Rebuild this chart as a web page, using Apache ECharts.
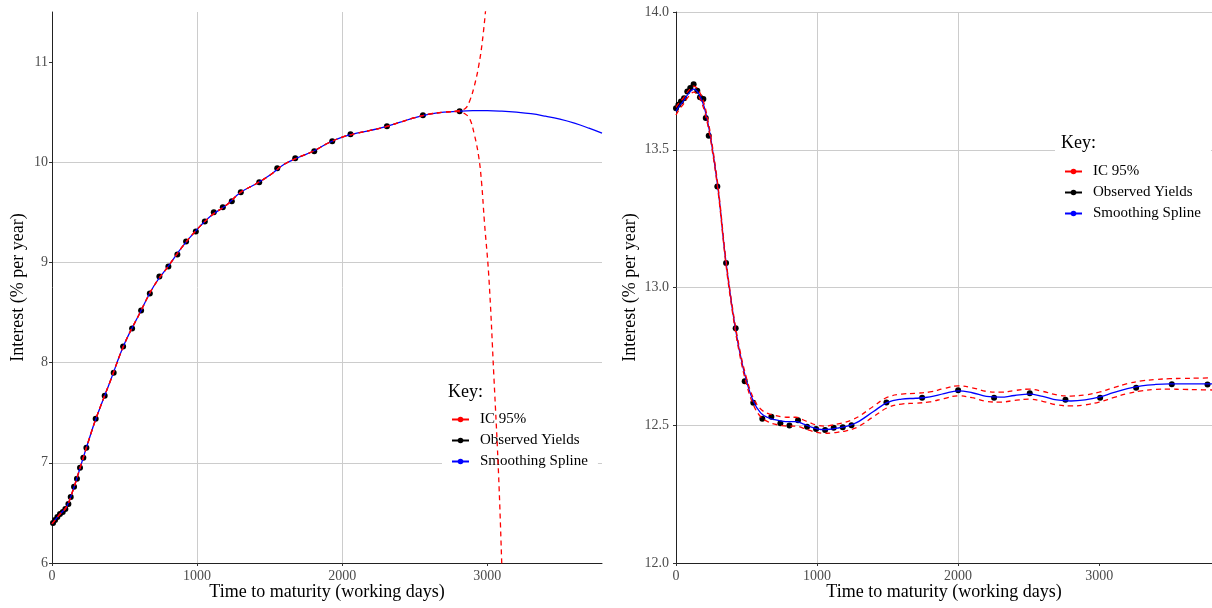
<!DOCTYPE html>
<html>
<head>
<meta charset="utf-8">
<script src="https://cdn.jsdelivr.net/npm/echarts@6/dist/echarts.min.js"></script>
<style>html,body{margin:0;padding:0;background:#fff}#c{width:1212px;height:608px}</style>
</head>
<body>
<div id="c"></div>
<script>
// ---------- Left panel data ----------
const leftObsX = [7,21,37,55,74,92,113,129,152,172,193,216,237,301,363,425,490,552,614,674,740,802,864,924,991,1053,1115,1177,1239,1301,1428,1552,1676,1807,1931,2057,2308,2556,2809];
const leftObsY = [6.40,6.43,6.46,6.49,6.51,6.54,6.59,6.66,6.76,6.84,6.95,7.05,7.15,7.44,7.67,7.90,8.16,8.34,8.52,8.69,8.86,8.96,9.08,9.21,9.31,9.41,9.50,9.55,9.61,9.70,9.80,9.94,10.04,10.11,10.21,10.28,10.36,10.47,10.51];

const leftSplineX = [0,50,100,150,200,250,300,400,500,600,700,800,900,1000,1100,1200,1300,1400,1500,1600,1700,1800,1900,2000,2100,2200,2300,2400,2500,2600,2700,2800,2900,3000,3100,3200,3300,3400,3500,3600,3700,3790];
const leftSplineY = [6.39,6.48,6.56,6.75,6.98,7.21,7.43,7.81,8.19,8.48,8.76,8.96,9.16,9.33,9.47,9.57,9.70,9.78,9.87,9.98,10.05,10.11,10.19,10.25,10.29,10.32,10.355,10.40,10.445,10.48,10.50,10.51,10.515,10.515,10.51,10.50,10.485,10.46,10.43,10.39,10.34,10.29];

const leftUpperX = [0,50,100,150,200,250,300,400,500,600,700,800,900,1000,1100,1200,1300,1400,1500,1600,1700,1800,1900,2000,2100,2200,2300,2400,2500,2600,2700,2800,2850,2880,2910,2940,2965,2990];
const leftUpperY = [6.39,6.48,6.56,6.75,6.98,7.21,7.43,7.81,8.19,8.48,8.76,8.96,9.16,9.33,9.47,9.57,9.70,9.78,9.87,9.98,10.05,10.11,10.19,10.25,10.29,10.32,10.355,10.40,10.445,10.48,10.50,10.515,10.54,10.62,10.76,10.96,11.20,11.55];

const leftLowerX = [0,50,100,150,200,250,300,400,500,600,700,800,900,1000,1100,1200,1300,1400,1500,1600,1700,1800,1900,2000,2100,2200,2300,2400,2500,2600,2700,2800,2850,2880,2910,2940,2960,2980,3010,3045,3078,3100];
const leftLowerY = [6.39,6.48,6.56,6.75,6.98,7.21,7.43,7.81,8.19,8.48,8.76,8.96,9.16,9.33,9.47,9.57,9.70,9.78,9.87,9.98,10.05,10.11,10.19,10.25,10.29,10.32,10.355,10.40,10.445,10.48,10.50,10.505,10.48,10.43,10.28,10.06,9.80,9.40,8.86,7.86,6.86,5.95];

// ---------- Right panel data ----------
const rightObsX = [0,17,35,57,80,101,125,151,170,194,211,232,293,355,423,487,548,612,676,740,804,865,929,993,1057,1118,1182,1244,1492,1745,2000,2255,2508,2761,3007,3262,3515,3768];
const rightObsY = [13.651,13.663,13.675,13.687,13.711,13.724,13.738,13.714,13.691,13.684,13.615,13.551,13.367,13.089,12.852,12.660,12.582,12.524,12.531,12.507,12.499,12.518,12.495,12.486,12.483,12.491,12.493,12.500,12.583,12.600,12.627,12.600,12.616,12.593,12.600,12.636,12.649,12.648];

const rightGridX = [0,25,50,75,100,125,150,175,200,225,250,300,350,400,450,500,550,600,650,700,750,800,850,900,950,1000,1050,1100,1150,1200,1250,1300,1400,1500,1600,1700,1800,1900,2000,2100,2200,2300,2400,2500,2600,2700,2800,2900,3000,3100,3200,3300,3400,3500,3600,3700,3800];
const rightSplineY = [13.64,13.66,13.675,13.695,13.71,13.72,13.712,13.69,13.655,13.60,13.53,13.35,13.11,12.92,12.77,12.66,12.585,12.545,12.528,12.52,12.515,12.513,12.513,12.505,12.495,12.487,12.484,12.486,12.490,12.495,12.503,12.515,12.550,12.583,12.595,12.598,12.603,12.615,12.625,12.618,12.605,12.602,12.608,12.613,12.605,12.592,12.588,12.592,12.602,12.618,12.633,12.643,12.648,12.650,12.650,12.650,12.650];
const rightUpperY = [13.654,13.672,13.686,13.706,13.721,13.731,13.723,13.701,13.666,13.610,13.540,13.359,13.119,12.929,12.780,12.671,12.597,12.559,12.543,12.536,12.531,12.529,12.529,12.520,12.509,12.500,12.497,12.500,12.505,12.511,12.520,12.533,12.569,12.602,12.613,12.616,12.621,12.633,12.643,12.636,12.623,12.620,12.626,12.631,12.623,12.610,12.606,12.610,12.620,12.636,12.651,12.661,12.666,12.669,12.670,12.671,12.672];
const rightLowerY = [13.626,13.648,13.664,13.684,13.699,13.709,13.701,13.679,13.644,13.590,13.520,13.341,13.101,12.911,12.760,12.649,12.573,12.531,12.513,12.504,12.499,12.497,12.497,12.490,12.481,12.474,12.471,12.472,12.475,12.479,12.486,12.497,12.531,12.564,12.577,12.580,12.585,12.597,12.607,12.600,12.587,12.584,12.590,12.595,12.587,12.574,12.570,12.574,12.584,12.600,12.615,12.625,12.630,12.631,12.630,12.629,12.628];

const leftYTicks = [6,7,8,9,10,11];
const leftXTicks = [0,1000,2000,3000];
const rightYTicks = [12.0,12.5,13.0,13.5,14.0];
const rightXTicks = [0,1000,2000,3000];

const legendNames = ['IC 95%','Observed Yields','Smoothing Spline'];
const xTitle = 'Time to maturity (working days)';
const yTitle = 'Interest (% per year)';

// ---------- build ----------
const zip = (xs, ys) => xs.map((x, i) => [x, ys[i]]);
const FONT = '"Liberation Serif", "DejaVu Serif", serif';
const RED = '#ff0000', BLUE = '#0000ff', BLACK = '#000000';

function xAxis(gi, max, ticks) {
  return {
    type: 'value', gridIndex: gi, min: 0, max: max, interval: 1000,
    name: xTitle, nameLocation: 'middle', nameGap: 20, nameMoveOverlap: false,
    nameTextStyle: { fontFamily: FONT, fontSize: 18, color: '#000' },
    axisLine: { show: true, onZero: false, lineStyle: { color: '#222', width: 1 } },
    axisTick: { show: true, length: 3, customValues: ticks, lineStyle: { color: '#333' } },
    axisLabel: { customValues: ticks, fontFamily: FONT, fontSize: 14, color: '#4d4d4d', margin: 6,
      formatter: v => String(v), hideOverlap: false },
    splitLine: { show: true, showMaxLine: false, lineStyle: { color: '#cccccc', width: 1 } }
  };
}
function yAxis(gi, min, max, interval, ticks, dec, gap, margin) {
  return {
    type: 'value', gridIndex: gi, min: min, max: max, interval: interval,
    name: yTitle, nameLocation: 'middle', nameGap: gap, nameRotate: 90, nameMoveOverlap: false,
    nameTextStyle: { fontFamily: FONT, fontSize: 18, color: '#000' },
    axisLine: { show: true, onZero: false, lineStyle: { color: '#222', width: 1 } },
    axisTick: { show: true, length: 3, customValues: ticks, lineStyle: { color: '#333' } },
    axisLabel: { customValues: ticks, fontFamily: FONT, fontSize: 14, color: '#4d4d4d', margin: margin, hideOverlap: false,
      formatter: v => dec ? Number(v).toFixed(1) : String(v) },
    splitLine: { show: true, showMaxLine: gi === 1, lineStyle: { color: '#cccccc', width: 1 } }
  };
}
function pts(gi, xs, ys) {
  return { name: 'Observed Yields', type: 'line', xAxisIndex: gi, yAxisIndex: gi,
    data: zip(xs, ys), symbol: 'circle', symbolSize: 6, showSymbol: true, showAllSymbol: true,
    itemStyle: { color: BLACK, borderWidth: 0 }, lineStyle: { width: 0, opacity: 0, color: BLACK },
    silent: true, animation: false, z: 2 };
}
function spline(gi, xs, ys) {
  return { name: 'Smoothing Spline', type: 'line', xAxisIndex: gi, yAxisIndex: gi,
    data: zip(xs, ys), smooth: 0.4, showSymbol: false, symbol: 'none',
    itemStyle: { color: BLUE }, lineStyle: { color: BLUE, width: 1.3 }, silent: true, animation: false, z: 3 };
}
function ci(gi, xs, ys) {
  return { name: 'IC 95%', type: 'line', xAxisIndex: gi, yAxisIndex: gi,
    data: zip(xs, ys), smooth: 0.4, showSymbol: false, symbol: 'none', clip: true,
    itemStyle: { color: RED }, lineStyle: { color: RED, width: 1.3, type: [5, 4] }, silent: true, animation: false, z: 4 };
}
function legend(left, top) {
  return {
    orient: 'vertical', left: left, top: top, backgroundColor: '#ffffff',
    padding: [37, 10, 8, 9], itemGap: 6, itemWidth: 17, itemHeight: 7,
    selectedMode: false,
    textStyle: { fontFamily: FONT, fontSize: 15, color: '#000', padding: [0, 0, 0, 6] },
    data: [
      { name: legendNames[0], lineStyle: { type: 'solid', width: 2, color: RED, opacity: 1 }, itemStyle: { color: RED } },
      { name: legendNames[1], lineStyle: { type: 'solid', width: 2, color: BLACK, opacity: 1 }, itemStyle: { color: BLACK } },
      { name: legendNames[2], lineStyle: { type: 'solid', width: 2, color: BLUE, opacity: 1 }, itemStyle: { color: BLUE } }
    ]
  };
}

const chart = echarts.init(document.getElementById('c'), null, { renderer: 'canvas' });
chart.setOption({
  backgroundColor: '#ffffff',
  animation: false,
  title: [
    { text: 'Key:', left: 448, top: 383, textStyle: { fontFamily: FONT, fontSize: 18, fontWeight: 'normal', color: '#000' }, padding: 0 },
    { text: 'Key:', left: 1061, top: 134, textStyle: { fontFamily: FONT, fontSize: 18, fontWeight: 'normal', color: '#000' }, padding: 0 }
  ],
  grid: [
    { left: 52, right: 610, top: 12, bottom: 45, containLabel: false, outerBoundsMode: 'none' },
    { left: 676, right: 0, top: 12, bottom: 45, containLabel: false, outerBoundsMode: 'none' }
  ],
  xAxis: [xAxis(0, 3790, leftXTicks), xAxis(1, 3800, rightXTicks)],
  yAxis: [yAxis(0, 6, 11.5, 1, leftYTicks, false, 25, 4), yAxis(1, 12, 14, 0.5, rightYTicks, true, 37, 7)],
  legend: [legend(442, 375), legend(1055, 127)],
  series: [
    pts(0, leftObsX, leftObsY),
    spline(0, leftSplineX, leftSplineY),
    ci(0, leftUpperX, leftUpperY),
    ci(0, leftLowerX, leftLowerY),
    pts(1, rightObsX, rightObsY),
    spline(1, rightGridX, rightSplineY),
    ci(1, rightGridX, rightUpperY),
    ci(1, rightGridX, rightLowerY)
  ]
});
</script>
</body>
</html>
